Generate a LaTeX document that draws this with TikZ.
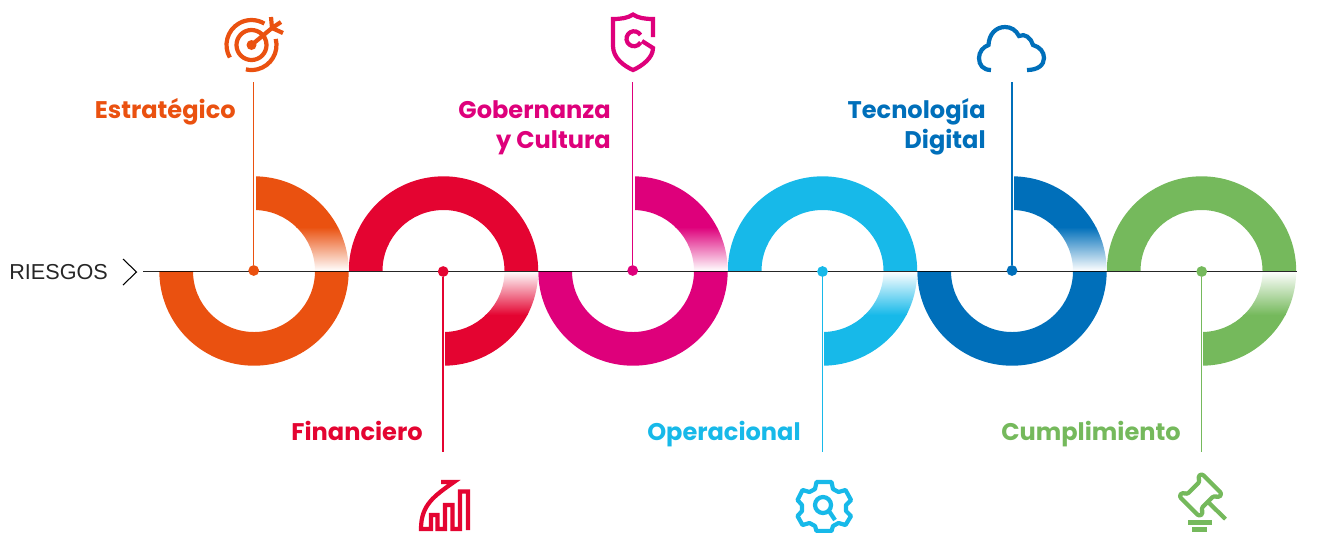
\documentclass[tikz,border=0pt]{standalone}
\usepackage{fontspec}
\setmainfont{Poppins}
\newfontfamily\axisfont{Liberation Sans}
\definecolor{cEstrategico}{HTML}{EA5110}
\definecolor{cFinanciero}{HTML}{E40431}
\definecolor{cGobernanza}{HTML}{DE007B}
\definecolor{cOperacional}{HTML}{17B9E9}
\definecolor{cTecnologia}{HTML}{006FBA}
\definecolor{cCumplimiento}{HTML}{75B95C}
\tikzset{
  riesgo/.style={anchor=base east,align=right,inner sep=0pt,font=\fontsize{13.7}{17}\selectfont\bfseries},
  hito/.style={circle,minimum size=2.15mm,inner sep=0pt},
  icono/.style={line width=2.4pt,line join=miter},
  guia/.style={line width=0.85pt}
}
\begin{document}
\begin{tikzpicture}[x=0.02cm,y=0.02cm]
\useasboundingbox (0,0) rectangle (1324,-532);
% medios anillos llenos
\fill [cEstrategico] (159.3,-271) arc (180:360:94.7) -- (315,-271) arc (360:180:61) -- cycle;
\fill [cFinanciero] (348.8,-271) arc (180:0:94.7) -- (504.5,-271) arc (0:180:61) -- cycle;
\fill [cGobernanza] (538.3,-271) arc (180:360:94.7) -- (694,-271) arc (360:180:61) -- cycle;
\fill [cOperacional] (727.8,-271) arc (180:0:94.7) -- (883.5,-271) arc (0:180:61) -- cycle;
\fill [cTecnologia] (917.3,-271) arc (180:360:94.7) -- (1073,-271) arc (360:180:61) -- cycle;
\fill [cCumplimiento] (1106.8,-271) arc (180:0:94.7) -- (1262.5,-271) arc (0:180:61) -- cycle;
% cuartos con degradado
\begin{scope}
\clip (254,-176.3) arc (90:0:94.7) -- (315,-271) arc (0:90:61) -- cycle;
\fill [cEstrategico] (255.5,-170) rectangle (350,-228);
\shade [top color=cEstrategico,bottom color=white] (255.5,-227) rectangle (350,-271);
\end{scope}
\begin{scope}
\clip (443.5,-365.7) arc (270:360:94.7) -- (504.5,-271) arc (360:270:61) -- cycle;
\fill [cFinanciero] (445,-372) rectangle (540,-314);
\shade [bottom color=cFinanciero,top color=white] (445,-315) rectangle (540,-271);
\end{scope}
\begin{scope}
\clip (633,-176.3) arc (90:0:94.7) -- (694,-271) arc (0:90:61) -- cycle;
\fill [cGobernanza] (634.5,-170) rectangle (729,-228);
\shade [top color=cGobernanza,bottom color=white] (634.5,-227) rectangle (729,-271);
\end{scope}
\begin{scope}
\clip (822.5,-365.7) arc (270:360:94.7) -- (883.5,-271) arc (360:270:61) -- cycle;
\fill [cOperacional] (824,-372) rectangle (919,-314);
\shade [bottom color=cOperacional,top color=white] (824,-315) rectangle (919,-271);
\end{scope}
\begin{scope}
\clip (1012,-176.3) arc (90:0:94.7) -- (1073,-271) arc (0:90:61) -- cycle;
\fill [cTecnologia] (1013.5,-170) rectangle (1108,-228);
\shade [top color=cTecnologia,bottom color=white] (1013.5,-227) rectangle (1108,-271);
\end{scope}
\begin{scope}
\clip (1201.5,-365.7) arc (270:360:94.7) -- (1262.5,-271) arc (360:270:61) -- cycle;
\fill [cCumplimiento] (1203,-372) rectangle (1298,-314);
\shade [bottom color=cCumplimiento,top color=white] (1203,-315) rectangle (1298,-271);
\end{scope}
% eje
\node (riesgos) [anchor=base west,inner sep=0pt,text=black!85,font=\axisfont\fontsize{12.3}{16}\selectfont] at (9,-279) {RIESGOS};
\coordinate (ejeIni) at (143,-271.5);
\coordinate (ejeFin) at (1297,-271.5);
\draw [black,line width=0.8pt,opacity=0.85] (ejeIni) -- (ejeFin);
\coordinate (chevA) at (123,-259);
\coordinate (chevB) at (136.5,-272);
\coordinate (chevC) at (123,-285);
\draw [black,line width=0.6pt] (chevA) -- (chevB) -- (chevC);
% hitos y guias
\node (hitoEst) [hito,fill=cEstrategico] at (253.7,-270.5) {};
\node (hitoFin) [hito,fill=cFinanciero] at (443.2,-271.5) {};
\node (hitoGob) [hito,fill=cGobernanza] at (632.7,-270.5) {};
\node (hitoOpe) [hito,fill=cOperacional] at (822.5,-271.5) {};
\node (hitoTec) [hito,fill=cTecnologia] at (1012,-270.5) {};
\node (hitoCum) [hito,fill=cCumplimiento] at (1201.7,-271.5) {};
\coordinate (finEst) at (253.7,-82);
\coordinate (finFin) at (443.2,-452);
\coordinate (finGob) at (632.7,-82);
\coordinate (finOpe) at (822.5,-452);
\coordinate (finTec) at (1012,-82);
\coordinate (finCum) at (1201.7,-452);
\draw [guia,cEstrategico] (hitoEst) -- (finEst);
\draw [guia,cFinanciero] (hitoFin) -- (finFin);
\draw [guia,cGobernanza] (hitoGob) -- (finGob);
\draw [guia,cOperacional] (hitoOpe) -- (finOpe);
\draw [guia,cTecnologia] (hitoTec) -- (finTec);
\draw [guia,cCumplimiento] (hitoCum) -- (finCum);
% textos
\node (txtEst) [riesgo,text=cEstrategico] at (236,-118) {Estratégico};
\node (txtFin) [riesgo,text=cFinanciero] at (423,-440) {Financiero};
\node (txtGob) [riesgo,text=cGobernanza] at (611,-148) {Gobernanza\\y Cultura};
\node (txtOpe) [riesgo,text=cOperacional] at (801,-440) {Operacional};
\node (txtTec) [riesgo,text=cTecnologia] at (986,-148) {Tecnología\\Digital};
\node (txtCum) [riesgo,text=cCumplimiento] at (1181,-440) {Cumplimiento};
% diana
\draw [icono,cEstrategico] (251.5,-45) ++(210:25) arc (210:59:25);
\draw [icono,cEstrategico] (251.5,-45) ++(14:25) arc (14:-103:25);
\draw [icono,cEstrategico] (251.5,-45) ++(58:15) arc (58:-360:15);
\fill [cEstrategico] (251.5,-45) circle (5);
\draw [icono,cEstrategico] (251.5,-45) -- (272,-28);
\draw [icono,cEstrategico] (271,-17) -- (272,-28) -- (283,-33);
\draw [icono,cEstrategico] (281,-22) -- (272,-28);
% grafico financiero
\draw [icono,cFinanciero] (441,-482) -- (454,-482) .. controls (434,-496) and (421,-505) .. (421,-529) -- (431,-529) -- (431,-515) -- (437.5,-515) -- (437.5,-529) -- (445,-529) -- (445,-505) -- (452.5,-505) -- (452.5,-529) -- (460,-529) -- (460,-491.5) -- (468,-491.5) -- (468,-530);
% escudo
\draw [icono,cGobernanza] (653,-37) -- (653,-19) .. controls (645,-19) and (638,-18) .. (633,-14.5) .. controls (628,-18) and (621,-19) .. (613,-19) -- (613,-46) .. controls (613,-58) and (624,-66) .. (633,-70) .. controls (642,-66) and (653,-58) .. (653,-48) -- (642,-41);
\draw [icono,cGobernanza] (640.5,-35) arc (30:330:7.5);
% engranaje
\draw [icono,cOperacional,line join=round] (816.5,-482) -- (831.5,-482) -- (833,-489) -- (838.5,-492) -- (845.5,-490) -- (851,-500) -- (846,-505) -- (846,-511) -- (851,-516) -- (845.5,-525) -- (838.5,-523) -- (833,-526) -- (831.5,-531) -- (816.5,-531) -- (815,-526) -- (809.5,-523) -- (802.5,-525) -- (797.5,-516) -- (802,-511) -- (802,-505) -- (797.5,-500) -- (802.5,-490) -- (809.5,-492) -- (815,-489) -- cycle;
\draw [icono,cOperacional] (823,-505) circle (8);
\draw [icono,cOperacional] (829,-511) -- (835,-520);
% martillo
\begin{scope}[shift={(1200.5,-495)},rotate=45]
\draw [icono,cCumplimiento,line join=round,rounded corners=1.5pt] (-16,-14.5) -- (-10.5,-14.5) -- (-9.5,-10) -- (9.5,-10) -- (10.5,-14.5) -- (16,-14.5) -- (16,14.5) -- (10.5,14.5) -- (9.5,10) -- (-9.5,10) -- (-10.5,14.5) -- (-16,14.5) -- cycle;
\end{scope}
\draw [icono,cCumplimiento] (1209,-503) -- (1225.5,-519);
\fill [cCumplimiento] (1188.3,-520) rectangle (1211.7,-525);
\fill [cCumplimiento] (1192.3,-526.7) rectangle (1207.3,-531.7);
% nube
\draw [icono,cTecnologia] (991,-70) .. controls (983,-70) and (979,-65) .. (979,-58) .. controls (979,-52) and (983,-47) .. (988.5,-45) .. controls (989,-34) and (996,-27) .. (1005,-27) .. controls (1011,-27) and (1016,-30) .. (1019,-36) .. controls (1025,-33) and (1031,-38) .. (1033,-45) .. controls (1040,-47) and (1044,-52) .. (1044,-58) .. controls (1044,-65) and (1038,-70) .. (1027,-70);
\end{tikzpicture}
\end{document}
